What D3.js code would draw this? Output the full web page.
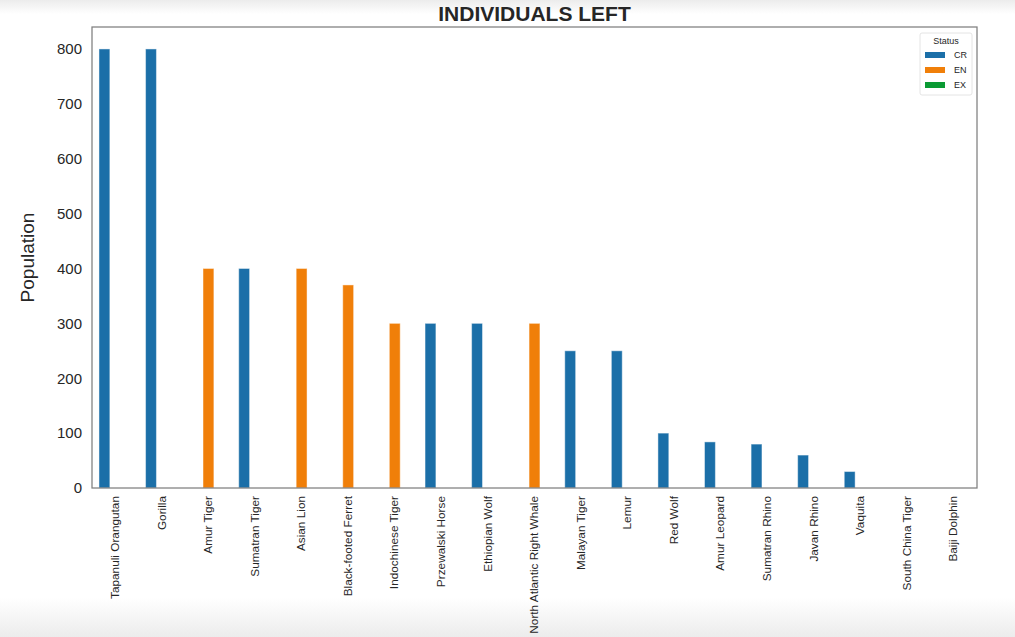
<!DOCTYPE html>
<html><head><meta charset="utf-8">
<script src="https://cdn.jsdelivr.net/npm/d3@7"></script>
<style>body{margin:0;background:#fff}svg{display:block}text{font-family:"Liberation Sans",Arial,sans-serif}</style>
</head><body>
<svg id="c" width="1015" height="637"></svg>
<script>
const categories = ["Tapanuli Orangutan","Gorilla","Amur Tiger","Sumatran Tiger","Asian Lion","Black-footed Ferret","Indochinese Tiger","Przewalski Horse","Ethiopian Wolf","North Atlantic Right Whale","Malayan Tiger","Lemur","Red Wolf","Amur Leopard","Sumatran Rhino","Javan Rhino","Vaquita","South China Tiger","Baiji Dolphin"];
const statuses = ["CR","EN","EX"];
const status = ["CR","CR","EN","CR","EN","EN","EN","CR","CR","EN","CR","CR","CR","CR","CR","CR","CR","EX","EX"];
const population = [800,800,400,400,400,370,300,300,300,300,250,250,100,84,80,60,30,0,0];
const yTicks = [0,100,200,300,400,500,600,700,800];
const colors = ["#1b6fa8","#f07f09","#0a9a33"];

const svg = d3.select("#c");
const defs = svg.append("defs");
const g1 = defs.append("linearGradient").attr("id","bot").attr("x1",0).attr("x2",0).attr("y1",0).attr("y2",1);
g1.append("stop").attr("offset",0).attr("stop-color","#fff");
g1.append("stop").attr("offset",1).attr("stop-color","#ececec");
const g2 = defs.append("linearGradient").attr("id","top").attr("x1",0).attr("x2",0).attr("y1",0).attr("y2",1);
g2.append("stop").attr("offset",0).attr("stop-color","#ececec");
g2.append("stop").attr("offset",1).attr("stop-color","#fff");
svg.append("rect").attr("x",0).attr("y",0).attr("width",1015).attr("height",14).attr("fill","url(#top)");
svg.append("rect").attr("x",0).attr("y",598).attr("width",1015).attr("height",39).attr("fill","url(#bot)");

const L=92,R=977,T=27,B=488;
const x = d3.scaleLinear().domain([-0.5, categories.length-0.5]).range([L,R]);
const y = d3.scaleLinear().domain([0,840]).range([B,T]);
const bw = 0.7/3;

const data = categories.map((c,i)=>({c,i,s:status[i],v:population[i]}));
svg.append("g").selectAll("rect").data(data).join("rect")
  .attr("x",d=>x(d.i+(statuses.indexOf(d.s)-1)*bw-bw/2))
  .attr("width",d=>x(bw)-x(0))
  .attr("y",d=>y(d.v))
  .attr("height",d=>y(0)-y(d.v))
  .attr("fill",d=>colors[statuses.indexOf(d.s)])
  .attr("stroke","rgba(255,255,255,0.45)").attr("stroke-width",1);

svg.append("rect").attr("x",L).attr("y",T).attr("width",R-L).attr("height",B-T)
  .attr("fill","none").attr("stroke","#7f7f7f").attr("stroke-width",1.25);

const ya = svg.append("g").attr("transform",`translate(${L},0)`)
  .call(d3.axisLeft(y).tickValues(yTicks).tickSize(0).tickPadding(10));
ya.select(".domain").remove();
ya.selectAll("text").attr("font-size",15).attr("fill","#262626").attr("font-family","Liberation Sans, Arial, sans-serif");

const xa = svg.append("g").attr("transform",`translate(0,${B})`)
  .call(d3.axisBottom(x).tickValues(d3.range(categories.length)).tickFormat(i=>categories[i]).tickSize(0));
xa.select(".domain").remove();
xa.selectAll("text").attr("font-size",11.8).attr("fill","#262626").attr("font-family","Liberation Sans, Arial, sans-serif")
  .attr("transform","rotate(-90)").attr("text-anchor","end").attr("x",-8).attr("y",-1).attr("dy","0.35em");

svg.append("text").attr("x",(L+R)/2).attr("y",21).attr("text-anchor","middle")
  .attr("font-size",21).attr("font-weight","bold").attr("fill","#262626").text("INDIVIDUALS LEFT");
svg.append("text").attr("transform",`translate(34,${(T+B)/2}) rotate(-90)`).attr("text-anchor","middle")
  .attr("font-size",19).attr("fill","#262626").text("Population");

// legend
const lg = svg.append("g").attr("transform","translate(920,33)");
lg.append("rect").attr("x",0).attr("y",0).attr("width",52).attr("height",62).attr("rx",2)
  .attr("fill","#fff").attr("stroke","#dddddd").attr("stroke-width",0.8);
lg.append("text").attr("x",26).attr("y",11).attr("text-anchor","middle").attr("font-size",9).attr("fill","#262626").text("Status");
statuses.forEach((s,i)=>{
  lg.append("rect").attr("x",5).attr("y",19+i*15).attr("width",20).attr("height",6).attr("fill",colors[i]);
  lg.append("text").attr("x",34).attr("y",25+i*15).attr("font-size",9).attr("fill","#262626").text(s);
});
</script>
</body></html>
